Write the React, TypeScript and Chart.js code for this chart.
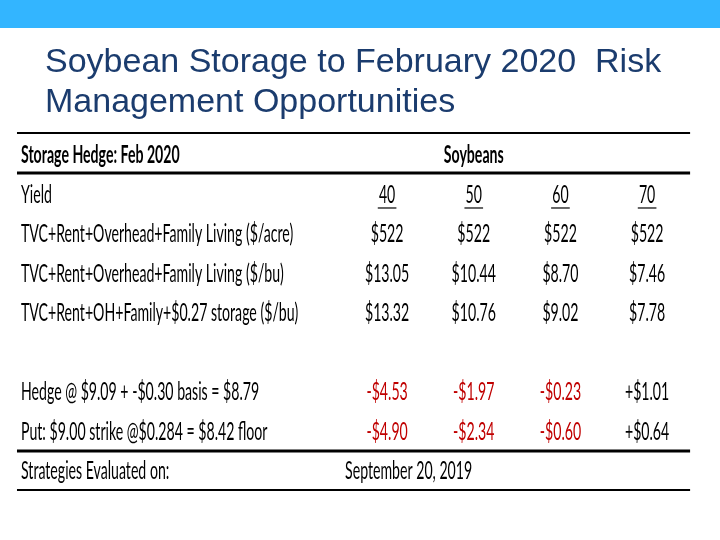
import { useEffect, useRef } from "react";
import { Chart, registerables } from "chart.js";
Chart.register(...registerables);

// ---- content ----
const titleLines = ["Soybean Storage to February 2020  Risk", "Management Opportunities"];
const tableTitle = "Storage Hedge: Feb 2020";
const cropName = "Soybeans";
const rowLabels = [
  "Yield",
  "TVC+Rent+Overhead+Family Living ($/acre)",
  "TVC+Rent+Overhead+Family Living ($/bu)",
  "TVC+Rent+OH+Family+$0.27 storage ($/bu)",
  "",
  "Hedge @ $9.09 + -$0.30 basis = $8.79",
  "Put: $9.00 strike @$0.284 = $8.42 floor",
  "Strategies Evaluated on:",
];
const yields = [40, 50, 60, 70];
const costPerAcre = [522, 522, 522, 522];
const costPerBu = [13.05, 10.44, 8.7, 7.46];
const costWithStorage = [13.32, 10.76, 9.02, 7.78];
const hedgeResult = [-4.53, -1.97, -0.23, 1.01];
const putResult = [-4.9, -2.34, -0.6, 0.64];
const evaluatedOn = "September 20, 2019";

// ---- layout (data units of the hidden scales) ----
const LABEL_X = -3.224;
const DATE_X = 0.515;
const RULE_Y = [-0.772, 0.241, 7.278, 8.266];
const RULE_W = [2.2, 3, 3, 2.2];
const RULE_X = [-3.27, 4.496];
const SX = 0.565;
const FONT_PX = 25;
const RED = "#C00000";
const BLACK = "#000000";

const dollars0 = (v: number) => "$" + v.toFixed(0);
const dollars2 = (v: number) => "$" + v.toFixed(2);
const signed = (v: number) => (v < 0 ? "-$" : "+$") + Math.abs(v).toFixed(2);
const signColor = (v: number) => (v < 0 ? RED : BLACK);

function valueRow(values: number[], row: number, fmt: (v: number) => string, colorFn?: (v: number) => string, extra: any = {}) {
  return {
    data: values.map((v, j) => ({ x: j + 1, y: row })),
    texts: values.map(fmt),
    colors: values.map((v) => (colorFn ? colorFn(v) : BLACK)),
    align: "center",
    ...extra,
  };
}

const tablePlugin = {
  id: "tableText",
  beforeDraw(chart: any) {
    const ctx = chart.ctx;
    ctx.save();
    ctx.fillStyle = "#ffffff";
    ctx.fillRect(0, 0, chart.width, chart.height);
    ctx.fillStyle = "#33B5FF";
    ctx.fillRect(0, 0, chart.width, 28);
    ctx.fillStyle = "#1B3C6E";
    ctx.font = '34px "Liberation Sans", Arial, sans-serif';
    ctx.textAlign = "left";
    ctx.textBaseline = "alphabetic";
    ctx.fillText(titleLines[0], 45, 72);
    ctx.fillText(titleLines[1], 45, 112);
    ctx.restore();
  },
  afterDatasetsDraw(chart: any) {
    const ctx = chart.ctx;
    const xs = chart.scales.x;
    const ys = chart.scales.y;
    ctx.save();
    ctx.strokeStyle = BLACK;
    RULE_Y.forEach((ry, i) => {
      const py = ys.getPixelForValue(ry);
      ctx.lineWidth = RULE_W[i];
      ctx.beginPath();
      ctx.moveTo(xs.getPixelForValue(RULE_X[0]), py);
      ctx.lineTo(xs.getPixelForValue(RULE_X[1]), py);
      ctx.stroke();
    });
    chart.data.datasets.forEach((ds: any, i: number) => {
      const meta = chart.getDatasetMeta(i);
      meta.data.forEach((el: any, j: number) => {
        const text = ds.texts[j];
        if (!text) return;
        const align = Array.isArray(ds.align) ? ds.align[j] : ds.align;
        ctx.save();
        ctx.translate(el.x, el.y);
        ctx.scale(SX, 1);
        ctx.font = (ds.bold ? "bold " : "") + FONT_PX + 'px Lato, "Open Sans", sans-serif';
        ctx.textAlign = align;
        ctx.textBaseline = "alphabetic";
        ctx.fillStyle = ds.colors ? ds.colors[j] : BLACK;
        ctx.fillText(text, 0, 0);
        if (ds.underline) {
          const w = ctx.measureText(text).width;
          ctx.strokeStyle = ctx.fillStyle;
          ctx.lineWidth = 1.2;
          ctx.beginPath();
          ctx.moveTo(-w / 2 - 2, 5);
          ctx.lineTo(w / 2 + 2, 5);
          ctx.stroke();
        }
        ctx.restore();
      });
    });
    ctx.restore();
  },
};

export default function App() {
  const ref = useRef<HTMLCanvasElement>(null);
  useEffect(() => {
    if (!ref.current) return;
    const labelRows = rowLabels
      .map((t, i) => ({ t, r: i + 1 }))
      .filter((o) => o.t !== "");
    const datasets: any[] = [
      {
        data: [{ x: LABEL_X, y: 0 }, { x: 2, y: 0 }],
        texts: [tableTitle, cropName],
        align: ["left", "center"],
        bold: true,
      },
      {
        data: labelRows.map((o) => ({ x: LABEL_X, y: o.r })),
        texts: labelRows.map((o) => o.t),
        align: "left",
      },
      valueRow(yields, 1, (v) => String(v), undefined, { underline: true }),
      valueRow(costPerAcre, 2, dollars0),
      valueRow(costPerBu, 3, dollars2),
      valueRow(costWithStorage, 4, dollars2),
      valueRow(hedgeResult, 6, signed, signColor),
      valueRow(putResult, 7, signed, signColor),
      {
        data: [{ x: DATE_X, y: 8 }],
        texts: [evaluatedOn],
        align: "left",
      },
    ].map((d) => ({ ...d, pointRadius: 0, pointHoverRadius: 0, borderWidth: 0, showLine: false }));

    const chart = new Chart(ref.current, {
      type: "scatter",
      data: { datasets },
      options: {
        animation: false,
        responsive: true,
        maintainAspectRatio: false,
        layout: { padding: 0, autoPadding: false },
        events: [],
        plugins: { legend: { display: false }, tooltip: { enabled: false }, title: { display: false } },
        scales: {
          x: { type: "linear", display: false, min: -3.466, max: 4.841 },
          y: { type: "linear", display: false, reverse: true, min: -4.139, max: 9.532 },
        },
      } as any,
      plugins: [tablePlugin],
    });
    return () => chart.destroy();
  }, []);
  return (
    <div style={{ position: "absolute", left: 0, top: 0, width: 720, height: 540 }}>
      <canvas ref={ref} />
    </div>
  );
}
